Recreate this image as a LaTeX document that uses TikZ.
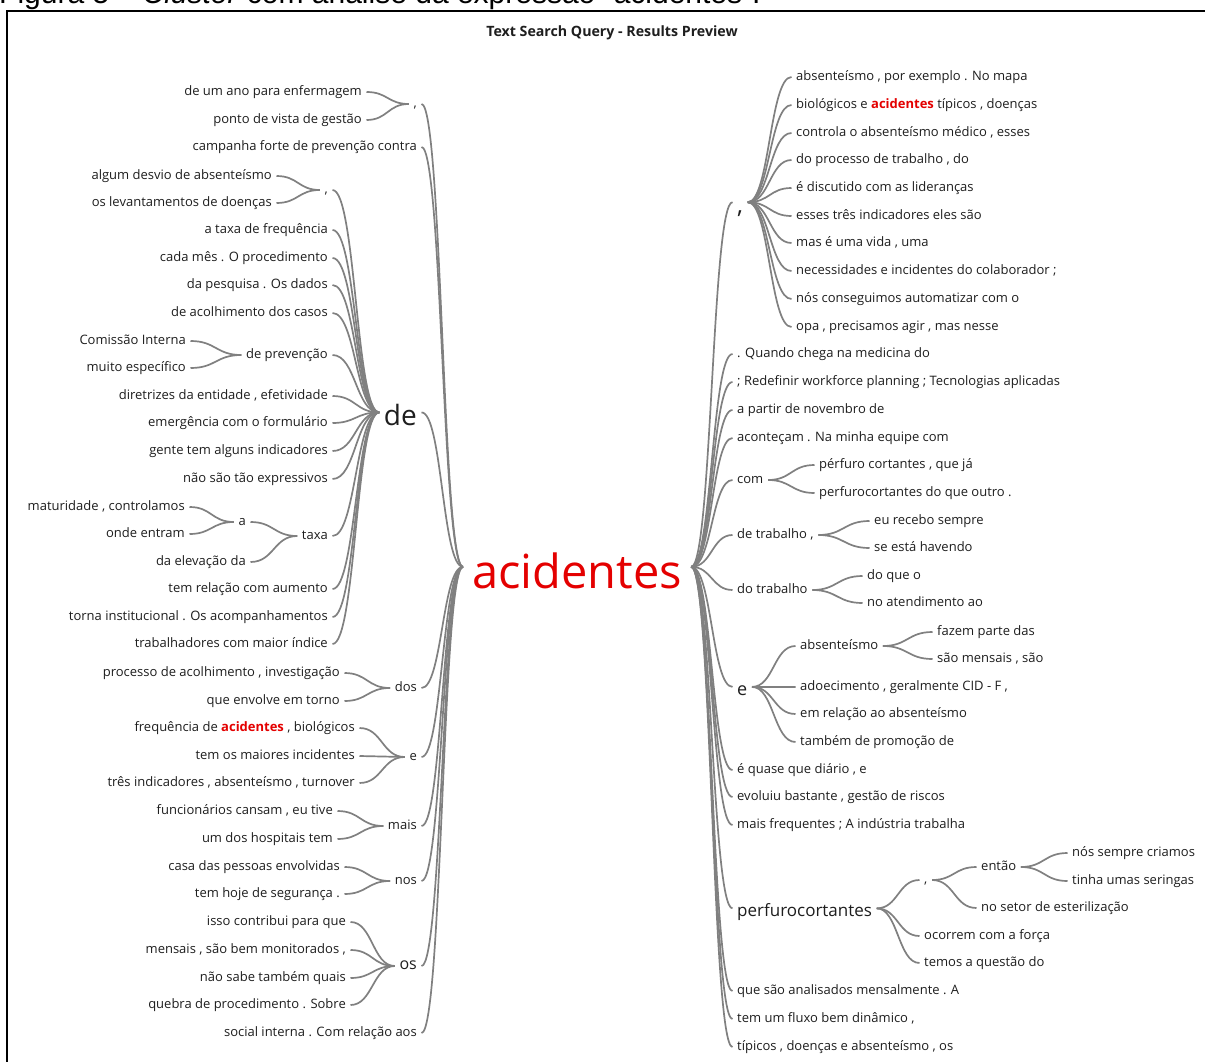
\documentclass[tikz,border=0pt]{standalone}
\usepackage{fontspec}
\setmainfont{Open Sans}
\newfontfamily\capfont{Liberation Sans}
\usetikzlibrary{calc}
\definecolor{txtc}{RGB}{30,30,30}
\definecolor{linec}{RGB}{128,128,128}
\definecolor{hl}{RGB}{228,0,0}
\newcommand\conn[2]{\draw[conn] let \p1=(#1.east), \p2=(#2.west) in (\p1) .. controls ({(\x1+\x2)/2},\y1) and ({(\x1+\x2)/2},\y2) .. (\p2);}
\newcommand\hlw{{\bfseries\color{hl}acidentes}}
\begin{document}
\begin{tikzpicture}[x=1pt,y=-1pt,
  w/.style={font=\fontsize{13}{16}\selectfont,text=txtc,inner xsep=4.5pt,inner ysep=0pt,text height=9pt,text depth=2pt},
  L/.style={w,anchor=east,xshift=4.5pt},
  R/.style={w,anchor=west,xshift=-4.5pt},
  conn/.style={draw=linec,line width=1.7pt}]
\useasboundingbox (0,0) rectangle (1205,1062);
\fill[white] (0,0) rectangle (1205,1062);
\node[anchor=base west,inner sep=0pt,font=\capfont\fontsize{30}{34}\selectfont] (cap) at (-1,3.5) {Figura 5 – \textit{Cluster} com análise da expressão “acidentes”.};
\draw[line width=1.3pt] (7,1075) -- (7,11) -- (1215,11);
\node[font=\bfseries\fontsize{14.2}{16}\selectfont,text=txtc] (title) at (612,33) {Text Search Query - Results Preview};
% root
\node[font=\fontsize{47}{50}\selectfont,text=hl,anchor=base west,inner xsep=9pt,inner ysep=0pt,text height=42.3pt,text depth=0pt] (root) at (463,588) {acidentes};
% ---------- left side level 1
\node[L] (c1) at (417,104) {,};
\node[L] (campanha) at (417,147) {campanha forte de prevenção contra};
\node[w,font=\fontsize{28}{30}\selectfont,anchor=base east,text height=25.2pt,text depth=0pt] (de) at (421.5,425) {de};
\node[L] (dos) at (417,688) {dos};
\node[L] (el) at (417,757) {e};
\node[L] (mais) at (417,826) {mais};
\node[L] (nos) at (417,881) {nos};
\node[L,font=\fontsize{16}{18}\selectfont] (os) at (417,966) {os};
\node[L] (social) at (417,1033) {social interna . Com relação aos};
% children of c1
\node[L] (c1a) at (362,92) {de um ano para enfermagem};
\node[L] (c1b) at (362,120) {ponto de vista de gestão};
% children of de
\node[L] (c2) at (328,190) {,};
\node[L] (de1) at (328,230) {a taxa de frequência};
\node[L] (de2) at (328,258) {cada mês . O procedimento};
\node[L] (de3) at (328,285) {da pesquisa . Os dados};
\node[L] (de4) at (328,313) {de acolhimento dos casos};
\node[L] (prev) at (328,355) {de prevenção};
\node[L] (de5) at (328,396) {diretrizes da entidade , efetividade};
\node[L] (de6) at (328,423) {emergência com o formulário};
\node[L] (de7) at (328,451) {gente tem alguns indicadores};
\node[L] (de8) at (328,479) {não são tão expressivos};
\node[L] (taxa) at (328,536) {taxa};
\node[L] (de9) at (328,589) {tem relação com aumento};
\node[L] (de10) at (328,617) {torna institucional . Os acompanhamentos};
\node[L] (de11) at (328,644) {trabalhadores com maior índice};
% children of c2
\node[L] (c2a) at (272,176) {algum desvio de absenteísmo};
\node[L] (c2b) at (272,203) {os levantamentos de doenças};
% children of prev
\node[L] (pa) at (186,341) {Comissão Interna};
\node[L] (pb) at (186,368) {muito específico};
% children of taxa
\node[L] (ta) at (246,522) {a};
\node[L] (tb) at (246,562) {da elevação da};
% children of a
\node[L] (aa) at (185,507) {maturidade , controlamos};
\node[L] (ab) at (185,534) {onde entram};
% children of dos
\node[L] (dos1) at (340,673) {processo de acolhimento , investigação};
\node[L] (dos2) at (340,701) {que envolve em torno};
% children of e
\node[L] (el1) at (355,728) {frequência de \hlw{} , biológicos};
\node[L] (el2) at (355,756) {tem os maiores incidentes};
\node[L] (el3) at (355,783) {três indicadores , absenteísmo , turnover};
% children of mais
\node[L] (mais1) at (333,811) {funcionários cansam , eu tive};
\node[L] (mais2) at (333,839) {um dos hospitais tem};
% children of nos
\node[L] (nos1) at (340,867) {casa das pessoas envolvidas};
\node[L] (nos2) at (340,894) {tem hoje de segurança .};
% children of os
\node[L] (os1) at (346,922) {isso contribui para que};
\node[L] (os2) at (346,950) {mensais , são bem monitorados ,};
\node[L] (os3) at (346,978) {não sabe também quais};
\node[L] (os4) at (346,1005) {quebra de procedimento . Sobre};
% ---------- right side level 1
\node[w,font=\fontsize{24}{26}\selectfont,anchor=base west,text height=21.6pt,text depth=0pt] (c3) at (732.5,213) {,};
\node[R] (r1) at (737,354) {. Quando chega na medicina do};
\node[R] (r2) at (737,382) {; Redefinir workforce planning ; Tecnologias aplicadas};
\node[R] (r3) at (737,410) {a partir de novembro de};
\node[R] (r4) at (737,438) {aconteçam . Na minha equipe com};
\node[R] (com) at (737,480) {com};
\node[R] (dtr) at (737,535) {de trabalho ,};
\node[R] (dot) at (737,590) {do trabalho};
\node[w,font=\fontsize{18}{20}\selectfont,anchor=base west,text height=16.2pt,text depth=0pt] (er) at (732.5,695) {e};
\node[R] (r5) at (737,770) {é quase que diário , e};
\node[R] (r6) at (737,797) {evoluiu bastante , gestão de riscos};
\node[R] (r7) at (737,825) {mais frequentes ; A indústria trabalha};
\node[w,font=\fontsize{17}{19}\selectfont,anchor=base west,text height=15.3pt,text depth=0pt] (perf) at (732.5,916) {perfurocortantes};
\node[R] (r8) at (737,991) {que são analisados mensalmente . A};
\node[R] (r9) at (737,1019) {tem um fluxo bem dinâmico ,};
\node[R] (r10) at (737,1047) {típicos , doenças e absenteísmo , os};
% children of c3
\node[R] (k1) at (796,77) {absenteísmo , por exemplo . No mapa};
\node[R] (k2) at (796,105) {biológicos e \hlw{} típicos , doenças};
\node[R] (k3) at (796,133) {controla o absenteísmo médico , esses};
\node[R] (k4) at (796,160) {do processo de trabalho , do};
\node[R] (k5) at (796,188) {é discutido com as lideranças};
\node[R] (k6) at (796,216) {esses três indicadores eles são};
\node[R] (k7) at (796,243) {mas é uma vida , uma};
\node[R] (k8) at (796,271) {necessidades e incidentes do colaborador ;};
\node[R] (k9) at (796,299) {nós conseguimos automatizar com o};
\node[R] (k10) at (796,327) {opa , precisamos agir , mas nesse};
% children of com
\node[R] (com1) at (819,465) {pérfuro cortantes , que já};
\node[R] (com2) at (819,493) {perfurocortantes do que outro .};
% children of de trabalho
\node[R] (dtr1) at (874,521) {eu recebo sempre};
\node[R] (dtr2) at (874,548) {se está havendo};
% children of do trabalho
\node[R] (dot1) at (867,576) {do que o};
\node[R] (dot2) at (867,603) {no atendimento ao};
% children of e (right)
\node[R] (abs) at (800,646) {absenteísmo};
\node[R] (er2) at (800,687) {adoecimento , geralmente CID - F ,};
\node[R] (er3) at (800,714) {em relação ao absenteísmo};
\node[R] (er4) at (800,742) {também de promoção de};
% children of absenteismo
\node[R] (abs1) at (937,632) {fazem parte das};
\node[R] (abs2) at (937,659) {são mensais , são};
% children of perfurocortantes
\node[R] (c4) at (924,880) {,};
\node[R] (pf2) at (924,936) {ocorrem com a força};
\node[R] (pf3) at (924,963) {temos a questão do};
% children of c4
\node[R] (entao) at (981,867) {então};
\node[R] (c4b) at (981,908) {no setor de esterilização};
% children of entao
\node[R] (en1) at (1072,853) {nós sempre criamos};
\node[R] (en2) at (1072,881) {tinha umas seringas};
% ---------- connectors left
\foreach \v in {c1,campanha,de,dos,el,mais,nos,os,social} {\conn{\v}{root}}
\foreach \v in {c1a,c1b} {\conn{\v}{c1}}
\foreach \v in {c2,de1,de2,de3,de4,prev,de5,de6,de7,de8,taxa,de9,de10,de11} {\conn{\v}{de}}
\foreach \v in {c2a,c2b} {\conn{\v}{c2}}
\foreach \v in {pa,pb} {\conn{\v}{prev}}
\foreach \v in {ta,tb} {\conn{\v}{taxa}}
\foreach \v in {aa,ab} {\conn{\v}{ta}}
\foreach \v in {dos1,dos2} {\conn{\v}{dos}}
\foreach \v in {el1,el2,el3} {\conn{\v}{el}}
\foreach \v in {mais1,mais2} {\conn{\v}{mais}}
\foreach \v in {nos1,nos2} {\conn{\v}{nos}}
\foreach \v in {os1,os2,os3,os4} {\conn{\v}{os}}
% ---------- connectors right
\foreach \v in {c3,r1,r2,r3,r4,com,dtr,dot,er,r5,r6,r7,perf,r8,r9,r10} {\conn{root}{\v}}
\foreach \v in {k1,k2,k3,k4,k5,k6,k7,k8,k9,k10} {\conn{c3}{\v}}
\foreach \v in {com1,com2} {\conn{com}{\v}}
\foreach \v in {dtr1,dtr2} {\conn{dtr}{\v}}
\foreach \v in {dot1,dot2} {\conn{dot}{\v}}
\foreach \v in {abs,er2,er3,er4} {\conn{er}{\v}}
\foreach \v in {abs1,abs2} {\conn{abs}{\v}}
\foreach \v in {c4,pf2,pf3} {\conn{perf}{\v}}
\foreach \v in {entao,c4b} {\conn{c4}{\v}}
\foreach \v in {en1,en2} {\conn{entao}{\v}}
\end{tikzpicture}
\end{document}
